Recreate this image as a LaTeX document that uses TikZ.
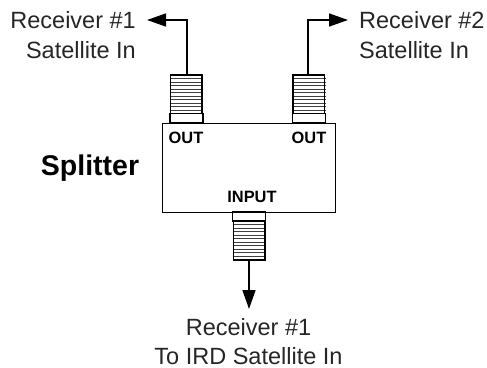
\documentclass[tikz,border=0pt]{standalone}
\usepackage{fontspec}
\setmainfont{Liberation Sans}
\usetikzlibrary{arrows.meta}
\tikzset{x=1pt,y=-1pt,
  outline/.style={draw=black,line width=1.4pt,fill=white},
  wire/.style={draw=black,line width=1.5pt,-{Triangle[length=19pt,width=13pt]}},
  lbl/.style={font=\fontsize{23.5}{30}\selectfont,text=black!85,inner sep=0pt},
  port/.style={font=\bfseries\fontsize{16.4}{18}\selectfont,inner sep=0pt,anchor=base},
  threadline/.style={draw=black!75,line width=0.9pt}}
\newcommand{\threads}[3]{%
  \foreach \k in {1,...,10}{\draw[threadline] (#1-1,{#2+(#3-#2)*\k/11}) -- (#1+32.5,{#2+(#3-#2)*\k/11});}%
  \draw[line width=1.3pt] (#1,#2) rectangle (#1+31.5,#3);}
\begin{document}
\begin{tikzpicture}
\useasboundingbox (0,0) rectangle (487,367);
% left output
\threads{170.5}{75}{113.5}
\draw[outline] (170,113.5) rectangle (203,122.5);
\coordinate (lt) at (187,75);
\coordinate (lc) at (187,20);
\coordinate (lh) at (147,20);
\draw[wire] (lt) -- (lc) -- (lh);
% right output
\threads{293}{75}{113.5}
\draw[outline] (292.5,113.5) rectangle (325.5,122.5);
\coordinate (rt) at (308,75);
\coordinate (rc) at (308,20);
\coordinate (rh) at (348,20);
\draw[wire] (rt) -- (rc) -- (rh);
% box
\node[outline,minimum width=173pt,minimum height=89.5pt,inner sep=0pt,anchor=north west] (box) at (162,122.5) {};
% input
\draw[outline] (232.5,212) rectangle (265.5,221);
\threads{233.5}{221}{260}
\coordinate (bt) at (249,260);
\coordinate (bh) at (249,309);
\draw[wire] (bt) -- (bh);
% texts
\node[port] (o1) at (186,143) {OUT};
\node[port] (o2) at (309,143) {OUT};
\node[port] (in) at (252,202) {INPUT};
\node[inner sep=0pt,anchor=base,font=\bfseries\fontsize{28.5}{32}\selectfont] (sp) at (90,175) {Splitter};
\node[lbl,align=right,anchor=east] (r1) at (136,34.6) {Receiver \#1\\Satellite In};
\node[lbl,align=left,anchor=west] (r2) at (359,34.6) {Receiver \#2\\Satellite In};
\node[lbl,align=center,font=\fontsize{23.5}{29}\selectfont] (r3) at (248.5,341.5) {Receiver \#1\\To IRD Satellite In};
\end{tikzpicture}
\end{document}
